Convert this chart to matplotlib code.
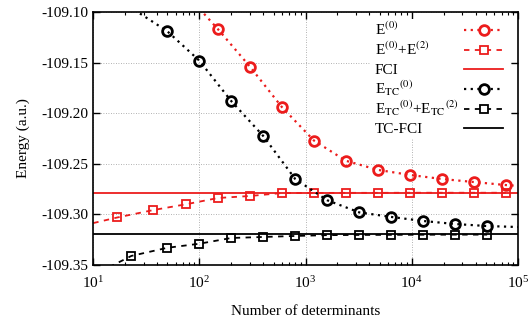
import matplotlib
matplotlib.use("Agg")
import matplotlib.pyplot as plt
from matplotlib.patches import Rectangle
from matplotlib.ticker import LogLocator, FuncFormatter, NullFormatter
from matplotlib.transforms import offset_copy

plt.rcParams['font.family'] = ['Liberation Serif', 'DejaVu Serif']
plt.rcParams['mathtext.fontset'] = 'stix'
plt.rcParams['axes.unicode_minus'] = False

# values
x_e0 = [75, 150, 300, 600, 1200, 2400, 4800, 9600, 19200, 38400, 76800, 153600]
e0 = [-109.082, -109.117, -109.154, -109.194, -109.227, -109.247, -109.256,
      -109.261, -109.265, -109.268, -109.271, -109.273]

x_e02 = [8, 17, 37, 75, 150, 300, 600, 1200, 2400, 4800, 9600, 19200, 38400, 76800]
e02 = [-109.311, -109.303, -109.2957, -109.290, -109.2838, -109.2818, -109.2789,
       -109.2788, -109.2787, -109.2787, -109.2786, -109.2786, -109.2786, -109.2786]

fci = -109.2785

x_tc0 = [12.5, 50, 100, 200, 400, 800, 1600, 3200, 6400, 12800, 25600, 51200, 204800]
tc0 = [-109.078, -109.119, -109.148, -109.188, -109.2225, -109.265, -109.286,
       -109.298, -109.3025, -109.3065, -109.3095, -109.3115, -109.3135]

x_tc02 = [11.5, 23, 50, 100, 200, 400, 800, 1600, 3200, 6400, 12800, 25600, 51200]
tc02 = [-109.357, -109.341, -109.333, -109.329, -109.3233, -109.3223, -109.3213,
        -109.3205, -109.3203, -109.3202, -109.3201, -109.3200, -109.3200]

tc_fci = -109.3197

labels = [r'E$^{(0)}$', r'E$^{(0)}$+E$^{(2)}$', 'FCI',
          r'E$_{\rm TC}{}^{(0)}$', r'E$_{\rm TC}{}^{(0)}$+E$_{\rm TC}{}^{(2)}$', 'TC-FCI']

red = '#ec1c1c'
dot = (0, (1, 2))
dash = (0, (3, 3))
styles = [
    dict(ls=dot, lw=1.6, color=red, marker='o', ms=7, mfc='none', mew=2.0),
    dict(ls=dash, lw=1.3, color=red, marker='s', ms=6, mfc='none', mew=1.3),
    dict(ls='-', lw=1.3, color=red),
    dict(ls=dot, lw=1.6, color='black', marker='o', ms=7, mfc='none', mew=2.0),
    dict(ls=dash, lw=1.3, color='black', marker='s', ms=6, mfc='none', mew=1.3),
    dict(ls='-', lw=1.3, color='black'),
]

fig = plt.figure(figsize=(5.30, 3.23), dpi=100)
ax = fig.add_axes([93 / 530, 1 - 265 / 323, 425 / 530, 253 / 323])

ax.plot(x_e0, e0, **styles[0])
ax.plot(x_e02, e02, **styles[1])
ax.axhline(fci, **styles[2])
ax.plot(x_tc0, tc0, **styles[3])
ax.plot(x_tc02, tc02, **styles[4])
ax.axhline(tc_fci, **styles[5])

ax.set_xscale('log')
ax.set_xlim(10, 1e5)
ax.set_ylim(-109.35, -109.10)
ax.set_yticks([-109.35, -109.30, -109.25, -109.20, -109.15, -109.10])
ax.yaxis.set_major_formatter(FuncFormatter(lambda v, p: '%.2f' % v))
ax.xaxis.set_major_locator(LogLocator(base=10))
ax.xaxis.set_minor_locator(LogLocator(base=10, subs=range(2, 10)))
ax.xaxis.set_minor_formatter(NullFormatter())

ax.tick_params(which='both', direction='in', top=True, right=True, labelsize=11)
ax.tick_params(which='major', length=5, width=1)
ax.tick_params(which='minor', length=2.5, width=0.8)
ax.tick_params(axis='x', pad=7)
for s in ax.spines.values():
    s.set_linewidth(1.2)

ax.grid(True, which='major', ls=(0, (1, 2)), lw=0.6, color='#999999')

ax.set_xlabel('Number of determinants', fontsize=11, labelpad=10)
ax.set_ylabel('Energy (a.u.)', fontsize=11, labelpad=8)

# opaque key box (hides the grid, keeps the ticks)
ax.add_patch(Rectangle((0.654, 0.502), 1 - 7 / 425 - 0.654, 1 - 7 / 253 - 0.502,
                       transform=ax.transAxes, facecolor='white', edgecolor='none',
                       zorder=1.8))

# key in gnuplot style: text left aligned, sample on the right
row_y = [0.929, 0.850, 0.775, 0.696, 0.617, 0.542]
text_tr = offset_copy(ax.transAxes, fig=fig, x=0, y=-5, units='dots')
for lab, st, yy in zip(labels, styles, row_y):
    ax.text(0.6635, yy, lab, transform=text_tr, fontsize=11, va='baseline',
            ha='left', zorder=3)
    line_st = {k: v for k, v in st.items() if k not in ('marker', 'ms', 'mfc', 'mew')}
    ax.plot([0.873, 0.965], [yy, yy], transform=ax.transAxes, clip_on=False,
            zorder=3, **line_st)
    if 'marker' in st:
        ax.plot([0.919], [yy], transform=ax.transAxes, clip_on=False, ls='none',
                color=st['color'], marker=st['marker'], ms=st['ms'], mfc='white',
                mew=st['mew'], zorder=3)

fig.savefig('out.png', dpi=100)
